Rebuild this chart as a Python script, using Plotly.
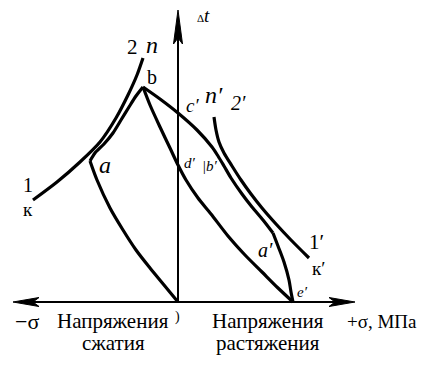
import plotly.graph_objects as go

# Schematic curves (sigma, delta-t) in chart units; origin at (0, 0)
outer_left_x = [-145, -121, -98, -78, -62, -50, -41, -35]
outer_left_y = [102, 120, 140, 160, 184, 207, 227, 244]

a_b_x = [-88, -83, -74, -65, -57, -49, -42, -35]
a_b_y = [141, 149, 158, 169, 182, 195, 206, 215]

a_o_x = [-88, -81, -68, -55, -42, -28, -14, 0]
a_o_y = [141, 122, 94, 72, 52, 34, 17, 0]

b_e_x = [-35, -28, -18, -8, 0, 8, 20, 33, 50, 67, 84, 100, 115]
b_e_y = [215, 197, 175, 154, 137, 122, 104, 88, 66, 47, 30, 14, 0]

b_ap_x = [-35, -18, 0, 19, 34, 40, 46, 53, 64, 74, 85, 95]
b_ap_y = [215, 203, 189, 172, 155, 146, 136, 124, 108, 95, 82, 69]

ap_e_x = [95, 100, 106, 111, 113, 115]
ap_e_y = [69, 56, 40, 22, 10, 0]

outer_right_x = [36, 38, 41, 46, 54, 63, 73, 84, 98, 113, 131]
outer_right_y = [185, 172, 160, 149, 136, 122, 108, 94, 78, 62, 44]

# Axes extents
X_NEG, X_POS, Y_TOP = -165, 177, 292

FONT = "Liberation Serif"
fig = go.Figure()

def line(x, y, w=3.2):
    fig.add_trace(go.Scatter(x=x, y=y, mode="lines",
                             line=dict(color="black", width=w, shape="spline", smoothing=0.8),
                             hoverinfo="skip", showlegend=False))

for xs, ys in [(outer_left_x, outer_left_y), (a_b_x, a_b_y), (a_o_x, a_o_y),
               (b_e_x, b_e_y), (b_ap_x, b_ap_y), (ap_e_x, ap_e_y),
               (outer_right_x, outer_right_y)]:
    line(xs, ys)

# axes
fig.add_trace(go.Scatter(x=[X_NEG + 15, X_POS - 15], y=[0, 0], mode="lines",
                         line=dict(color="black", width=2), hoverinfo="skip", showlegend=False))
fig.add_trace(go.Scatter(x=[0, 0], y=[0, Y_TOP - 20], mode="lines",
                         line=dict(color="black", width=2), hoverinfo="skip", showlegend=False))
# arrow heads
L, W = 26, 4.5
fig.add_trace(go.Scatter(x=[X_POS, X_POS - L, X_POS - L + 6, X_POS - L, X_POS],
                         y=[0, W, 0, -W, 0], mode="lines", fill="toself",
                         fillcolor="black", line=dict(color="black", width=1),
                         hoverinfo="skip", showlegend=False))
fig.add_trace(go.Scatter(x=[X_NEG, X_NEG + L, X_NEG + L - 6, X_NEG + L, X_NEG],
                         y=[0, W, 0, -W, 0], mode="lines", fill="toself",
                         fillcolor="black", line=dict(color="black", width=1),
                         hoverinfo="skip", showlegend=False))
fig.add_trace(go.Scatter(x=[0, W, 0, -W, 0],
                         y=[Y_TOP, Y_TOP - 34, Y_TOP - 28, Y_TOP - 34, Y_TOP], mode="lines", fill="toself",
                         fillcolor="black", line=dict(color="black", width=1),
                         hoverinfo="skip", showlegend=False))

def label(x, y, text, size=20, italic=False, xanchor="center"):
    t = f"<i>{text}</i>" if italic else text
    fig.add_annotation(x=x, y=y, text=t, showarrow=False, xanchor=xanchor,
                       font=dict(family=FONT, size=size, color="black"))

label(-46, 255, "2", 21)
label(-26, 257, "n", 24, True)
label(-26, 225, "b", 20)
label(14, 197, "c′", 19, True)
label(12, 139, "d′", 15, True)
label(32, 136, "|b′", 15, True)
label(-73, 137, "a", 24, True)
label(-150, 117, "1", 20)
label(-150, 93, "к", 19)
label(36, 207, "n′", 24, True)
label(60, 199, "2′", 20, True)
label(138, 60, "1′", 21)
label(140, 34, "к′", 19)
label(87, 52, "a′", 20, True)
label(124, 10, "e′", 15, True)
label(-1, -15, ")", 14)
label(25, 287, "<span style='font-size:11px'>Δ</span><i>t</i>", 19)
label(-151, -19, "−σ", 22)
label(-65, -19, "Напряжения", 21)
label(-65, -41, "сжатия", 21)
label(90, -19, "Напряжения", 21)
label(90, -41, "растяжения", 21)
label(241, -19, "+σ, МПа", 19, xanchor="right")

fig.update_layout(width=422, height=365, margin=dict(l=0, r=0, t=0, b=0),
                  paper_bgcolor="white", plot_bgcolor="white",
                  font=dict(family=FONT), hovermode=False, dragmode=False,
                  xaxis=dict(range=[-178, 244], visible=False, fixedrange=True),
                  yaxis=dict(range=[-63, 302], visible=False, fixedrange=True))
fig.write_html("out.html", config={"displayModeBar": False, "staticPlot": True},
               post_script="document.body.style.margin='0';document.body.style.overflow='hidden';")
